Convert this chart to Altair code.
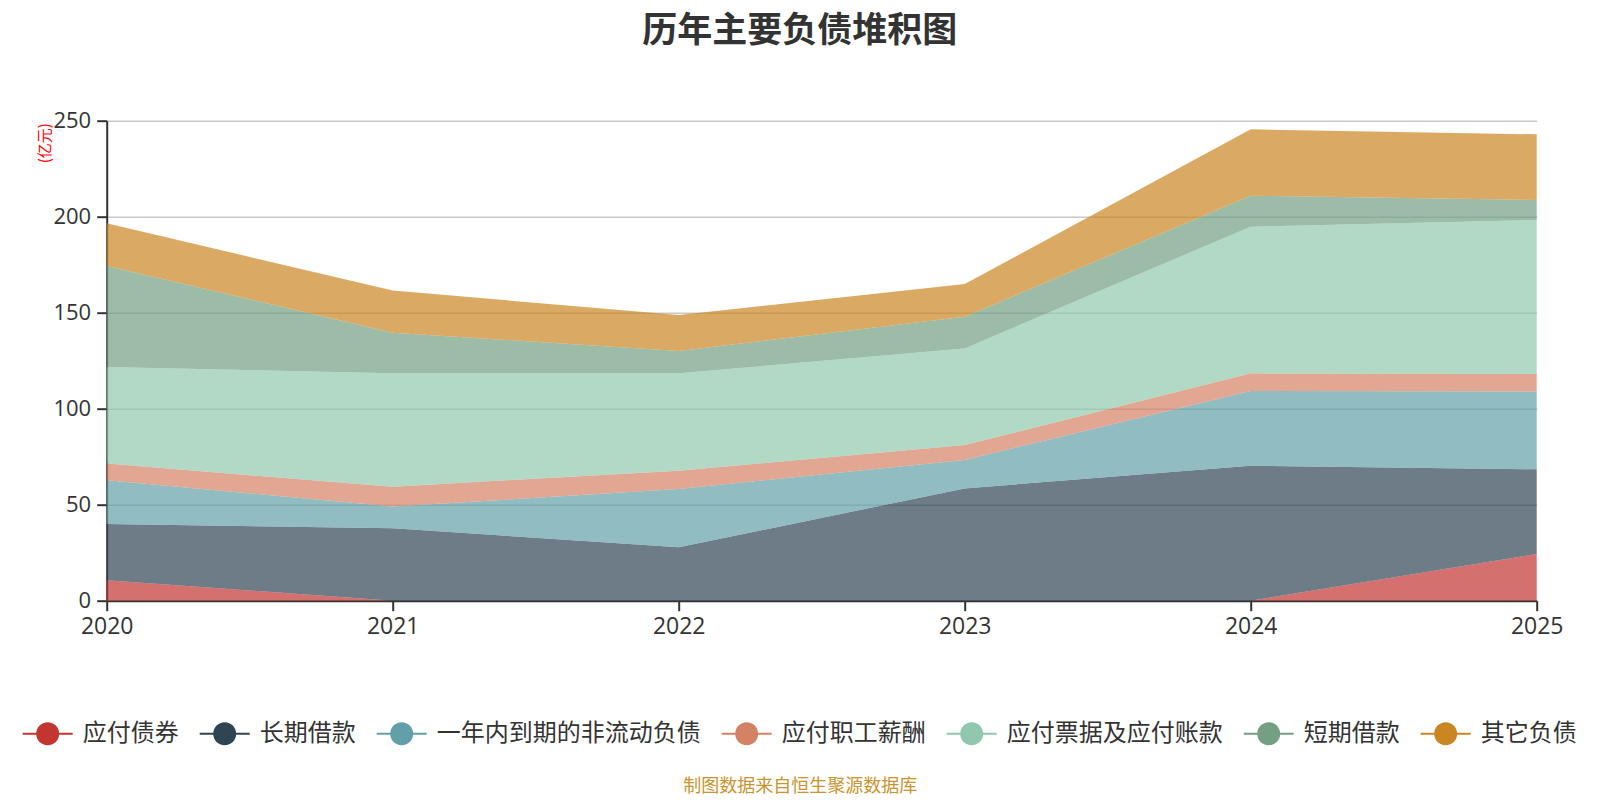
import altair as alt
import pandas as pd

# Years on the x axis
years = [2020, 2021, 2022, 2023, 2024, 2025]

# Series names, bottom of the stack first
series = ["应付债券", "长期借款", "一年内到期的非流动负债", "应付职工薪酬",
          "应付票据及应付账款", "短期借款", "其它负债"]
colors = ["#c23531", "#2f4554", "#61a0a8", "#d48265", "#91c7ae", "#749f83", "#ca8622"]

# Values in 亿元
bonds_payable = [10.6, 0.0, 0.0, 0.0, 0.0, 24.3]
long_term_loans = [29.3, 37.7, 27.8, 58.5, 70.3, 44.1]
current_noncurrent = [22.8, 11.3, 30.4, 14.8, 38.9, 40.5]
payroll_payable = [8.7, 10.4, 9.5, 7.8, 9.2, 9.2]
notes_accounts_payable = [50.3, 59.0, 50.7, 50.3, 76.4, 80.2]
short_term_loans = [52.6, 21.2, 11.7, 16.5, 16.1, 10.4]
other_liabilities = [22.3, 21.9, 18.7, 17.0, 34.6, 34.2]

y_ticks = [0, 50, 100, 150, 200, 250]

values = [bonds_payable, long_term_loans, current_noncurrent, payroll_payable,
          notes_accounts_payable, short_term_loans, other_liabilities]

rows = []
for i, (name, vals) in enumerate(zip(series, values)):
    for yr, v in zip(years, vals):
        rows.append({"年份": yr, "项目": name, "金额": v, "序号": i})
df = pd.DataFrame(rows)

FONT = "Noto Sans CJK SC"
NUM_FONT = "Open Sans"

# Legend glyph: a short line with a dot in the middle
legend_symbol = ("M-1,-0.04L-0.45,-0.04L-0.45,0.04L-1,0.04Z "
                 "M0.45,-0.04L1,-0.04L1,0.04L0.45,0.04Z "
                 "M-0.46,0A0.46,0.46 0 1,1 0.46,0A0.46,0.46 0 1,1 -0.46,0Z")

chart = alt.Chart(df).mark_area(opacity=0.7, line=False).encode(
    x=alt.X("年份:Q",
            scale=alt.Scale(domain=[2020, 2025], nice=False),
            axis=alt.Axis(values=years, format="d", grid=False, labelFlush=False,
                          labelFontSize=23, labelPadding=5,
                          title="制图数据来自恒生聚源数据库",
                          titleColor="#c8942e", titleFont=FONT, titleFontSize=18,
                          titleFontWeight="normal",
                          titleX=693, titleY=186, titleAlign="center",
                          titleBaseline="middle", titleAngle=0)),
    y=alt.Y("金额:Q", stack="zero",
            scale=alt.Scale(domain=[0, 250], nice=False),
            axis=alt.Axis(values=y_ticks, grid=True, gridColor="#c8c8c8", gridWidth=1.5,
                          labelFontSize=22,
                          title="(亿元)", titleColor="#ff0000", titleFont=FONT,
                          titleFontSize=15, titleFontWeight="normal",
                          titleAngle=-90, titleX=-62, titleY=2,
                          titleAlign="right", titleBaseline="middle")),
    color=alt.Color("项目:N",
                    scale=alt.Scale(domain=series, range=colors),
                    legend=alt.Legend(orient="none", legendX=-84, legendY=588,
                                      direction="horizontal", columns=7,
                                      title=None, symbolType=legend_symbol,
                                      symbolSize=2500, symbolOpacity=1,
                                      symbolStrokeWidth=0, labelOffset=10,
                                      columnPadding=21, labelFontSize=24,
                                      labelFont=FONT, labelColor="#333333",
                                      labelLimit=500)),
    order=alt.Order("序号:Q", sort="ascending"),
).properties(
    width=1430,
    height=480,
    autosize=alt.AutoSizeParams(type="none"),
    padding={"left": 106.7, "top": 120.7, "right": 63.3, "bottom": 199.3},
    title=alt.TitleParams("历年主要负债堆积图", anchor="middle", dx=-22,
                          font=FONT, fontSize=35, fontWeight="bold",
                          color="#333333", offset=61),
).configure_axis(
    domainColor="#333333", domainWidth=2,
    tickColor="#333333", tickWidth=2, tickSize=10,
    labelFont=NUM_FONT, labelColor="#333333", labelPadding=6,
).configure_view(
    stroke=None,
)

chart.save("out.html", embed_options={"renderer": "svg", "actions": False})
